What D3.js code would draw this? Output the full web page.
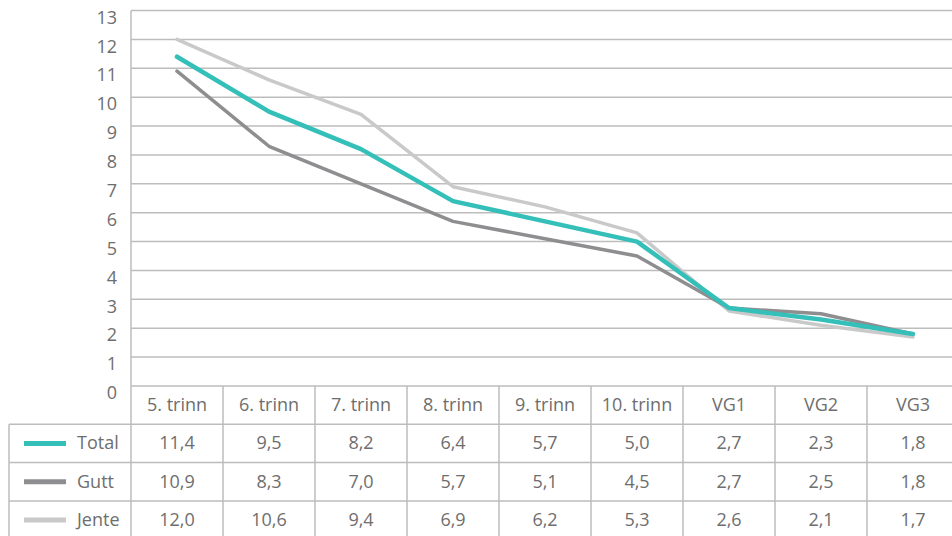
<!DOCTYPE html>
<html>
<head>
<meta charset="utf-8">
<script src="https://cdn.jsdelivr.net/npm/d3@7"></script>
<style>
  body { margin: 0; background: #fff; }
  text { font-family: "Open Sans", sans-serif; fill: #6e6e6e; }
</style>
</head>
<body>
<div id="chart"></div>
<script>
// data
var categories = ["5. trinn", "6. trinn", "7. trinn", "8. trinn", "9. trinn", "10. trinn", "VG1", "VG2", "VG3"];
var seriesNames = ["Total", "Gutt", "Jente"];
var total = [11.4, 9.5, 8.2, 6.4, 5.7, 5.0, 2.7, 2.3, 1.8];
var gutt  = [10.9, 8.3, 7.0, 5.7, 5.1, 4.5, 2.7, 2.5, 1.8];
var jente = [12.0, 10.6, 9.4, 6.9, 6.2, 5.3, 2.6, 2.1, 1.7];
var yTicks = [0, 1, 2, 3, 4, 5, 6, 7, 8, 9, 10, 11, 12, 13];

var series = [
  {name: "Total", values: total, color: "#34bfb9", width: 4.5},
  {name: "Gutt",  values: gutt,  color: "#8e8e91", width: 3.5},
  {name: "Jente", values: jente, color: "#c9c9c9", width: 3.5}
];

var W = 952, H = 536;
var plotLeft = 131, plotTop = 10.5, plotBottom = 386;
var colW = 92, rowH = 38.3, tableLeft = 9;
var gridColor = "#bdbdbd";

var svg = d3.select("#chart").append("svg")
  .attr("width", W).attr("height", H);

var x = d3.scaleBand()
  .domain(categories)
  .range([plotLeft, plotLeft + categories.length * colW]);

var y = d3.scaleLinear()
  .domain([0, 13])
  .range([plotBottom, plotTop]);

var fmt = function(v) { return v.toFixed(1).replace(".", ","); };

// horizontal gridlines
svg.append("g")
  .selectAll("line")
  .data(yTicks.filter(function(d) { return d > 0; }))
  .enter().append("line")
  .attr("x1", plotLeft).attr("x2", W)
  .attr("y1", function(d) { return y(d); })
  .attr("y2", function(d) { return y(d); })
  .attr("stroke", gridColor).attr("stroke-width", 1.5);

// y labels (sit a little below their gridline)
svg.append("g")
  .selectAll("text")
  .data(yTicks)
  .enter().append("text")
  .attr("x", 117)
  .attr("y", function(d) { return y(d) + 13.2; })
  .attr("text-anchor", "end")
  .attr("font-size", 18)
  .text(function(d) { return d; });

// table lines
var tableTop = plotBottom;
var rowYs = [tableTop, tableTop + rowH, tableTop + 2 * rowH, tableTop + 3 * rowH, tableTop + 4 * rowH];
var tl = svg.append("g").attr("stroke", gridColor).attr("stroke-width", 1.5);
tl.append("line").attr("x1", plotLeft).attr("x2", W).attr("y1", rowYs[0]).attr("y2", rowYs[0]);
[1, 2, 3].forEach(function(i) {
  tl.append("line").attr("x1", tableLeft).attr("x2", W).attr("y1", rowYs[i]).attr("y2", rowYs[i]);
});
// vertical lines
tl.append("line").attr("x1", plotLeft).attr("x2", plotLeft).attr("y1", plotTop).attr("y2", H);
tl.append("line").attr("x1", tableLeft).attr("x2", tableLeft).attr("y1", rowYs[1]).attr("y2", H);
tl.selectAll(".col").data(categories.slice(1))
  .enter().append("line")
  .attr("x1", function(d) { return x(d); })
  .attr("x2", function(d) { return x(d); })
  .attr("y1", rowYs[0]).attr("y2", H);

// header labels
svg.append("g").selectAll("text")
  .data(categories)
  .enter().append("text")
  .attr("x", function(d) { return x(d) + x.bandwidth() / 2; })
  .attr("y", rowYs[0] + rowH / 2 + 5.5)
  .attr("text-anchor", "middle")
  .attr("font-size", 18)
  .text(function(d) { return d; });

// value rows + legend
series.forEach(function(s, i) {
  var cy = rowYs[i + 1] + rowH / 2;
  var g = svg.append("g");
  g.append("line")
    .attr("x1", 24).attr("x2", 66)
    .attr("y1", cy).attr("y2", cy)
    .attr("stroke", s.color).attr("stroke-width", 5);
  g.append("text")
    .attr("x", 77).attr("y", cy + 6)
    .attr("font-size", 18)
    .text(s.name);
  g.selectAll(".v").data(s.values)
    .enter().append("text")
    .attr("x", function(d, j) { return x(categories[j]) + x.bandwidth() / 2; })
    .attr("y", cy + 6)
    .attr("text-anchor", "middle")
    .attr("font-size", 18)
    .text(function(d) { return fmt(d); });
});

// lines (Jente bottom, Total top)
var line = d3.line()
  .x(function(d, j) { return x(categories[j]) + x.bandwidth() / 2; })
  .y(function(d) { return y(d); });

svg.append("g").selectAll("path")
  .data(series.slice().reverse())
  .enter().append("path")
  .attr("d", function(s) { return line(s.values); })
  .attr("fill", "none")
  .attr("stroke", function(s) { return s.color; })
  .attr("stroke-width", function(s) { return s.width; })
  .attr("stroke-linejoin", "round")
  .attr("stroke-linecap", "round");
</script>
</body>
</html>
